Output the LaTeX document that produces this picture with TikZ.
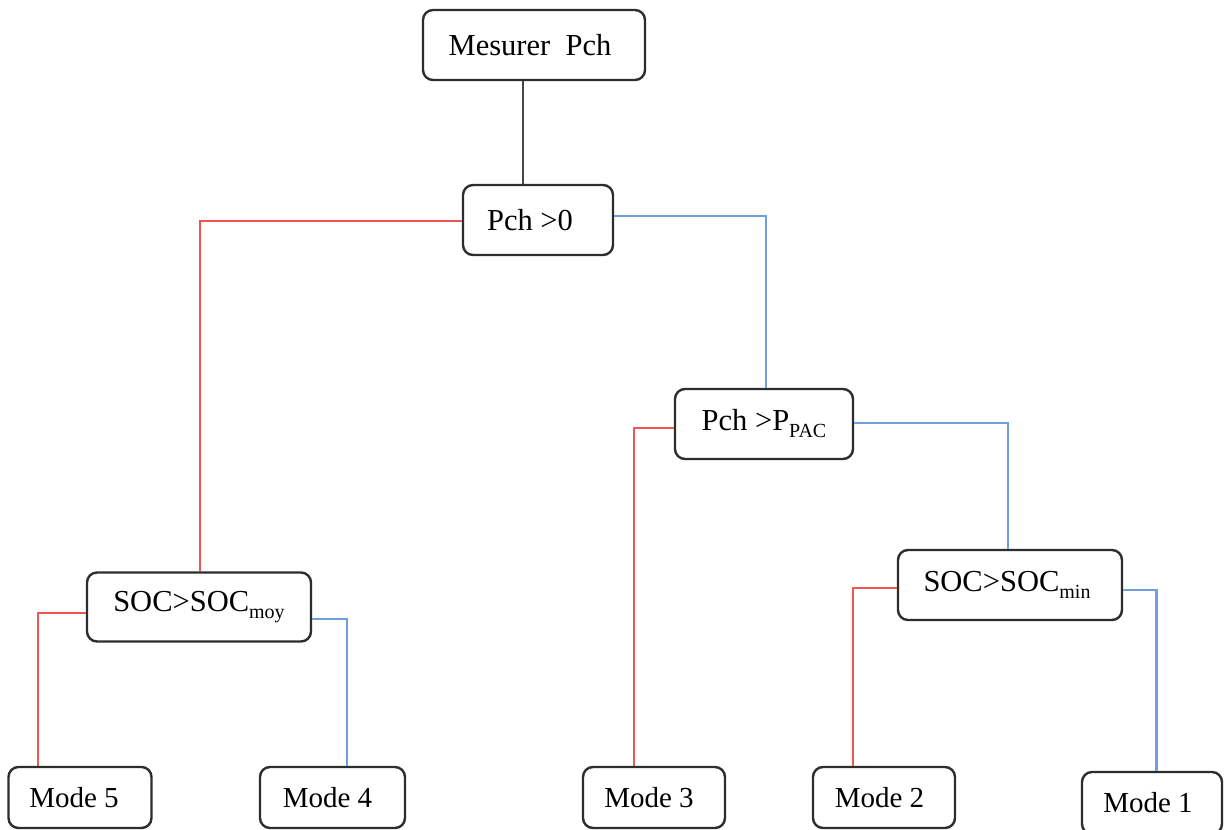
\documentclass[tikz,border=0pt]{standalone}
\usepackage{fontspec}
\setmainfont{Liberation Serif}
\definecolor{boxc}{RGB}{45,45,45}
\definecolor{redc}{RGB}{240,85,85}
\definecolor{bluec}{RGB}{112,160,220}
\definecolor{grayc}{RGB}{70,70,70}
\newcommand{\subtxt}[1]{\raisebox{-7pt}{\fontsize{20}{20}\selectfont #1}}
\begin{document}
\begin{tikzpicture}[x=1pt,y=-1pt,
  box/.style={draw=boxc, line width=2.4pt, rounded corners=10pt, fill=white, inner sep=0pt, align=center, font=\fontsize{30.5}{31}\selectfont},
  modebox/.style={box, minimum width=143pt, minimum height=61pt, font=\fontsize{29}{30}\selectfont},
  padr/.style={execute at end node={\hspace*{#1}}},
  rline/.style={draw=redc, line width=2.4pt},
  bline/.style={draw=bluec, line width=2.4pt},
  gline/.style={draw=grayc, line width=2.4pt}]
\useasboundingbox (0,0) rectangle (1224,830);
\node[box, minimum width=222pt, minimum height=70pt, padr=8pt] (m) at (534,45) {Mesurer\ \ Pch};
\node[box, minimum width=150pt, minimum height=70pt, padr=16pt] (p0) at (538,220) {Pch >0};
\node[box, minimum width=178pt, minimum height=70pt] (pp) at (764,424) {Pch >P\subtxt{PAC}};
\node[box, minimum width=224pt, minimum height=69pt] (sm) at (199,607) {SOC>SOC\subtxt{moy}};
\node[box, minimum width=224pt, minimum height=70pt, padr=6pt] (sn) at (1010,585) {SOC>SOC\subtxt{min}};
\node[modebox, padr=12pt] (m5) at (80,797.5) {Mode 5};
\node[modebox, minimum width=145pt, padr=10pt] (m4) at (332.5,797.5) {Mode 4};
\node[modebox, minimum width=142pt, padr=10pt] (m3) at (654,797.5) {Mode 3};
\node[modebox, minimum width=142pt, padr=9pt] (m2) at (884,797.5) {Mode 2};
\node[modebox, minimum width=140pt, minimum height=62pt, padr=8pt] (m1) at (1152,803) {Mode 1};
\draw[gline] ([xshift=-11pt]m.south) -- ([xshift=-11pt]m.south |- p0.north);
\draw[rline] ([yshift=-1pt]p0.west) -| ([xshift=1pt]sm.north);
\draw[bline] ([yshift=4pt]p0.east) -| ([xshift=2pt]pp.north);
\draw[rline] ([yshift=-4pt]pp.west) -| ([xshift=-20pt]m3.north);
\draw[bline] ([yshift=1pt]pp.east) -| ([xshift=-2pt]sn.north);
\draw[rline] ([yshift=-6pt]sm.west) -| ([xshift=-42pt]m5.north);
\draw[bline] ([yshift=-12pt]sm.east) -| ([xshift=14.5pt]m4.north);
\draw[rline] ([yshift=-3pt]sn.west) -| ([xshift=-31pt]m2.north);
\draw[bline] ([yshift=-5pt]sn.east) -| ([xshift=4.5pt]m1.north);
\end{tikzpicture}
\end{document}
